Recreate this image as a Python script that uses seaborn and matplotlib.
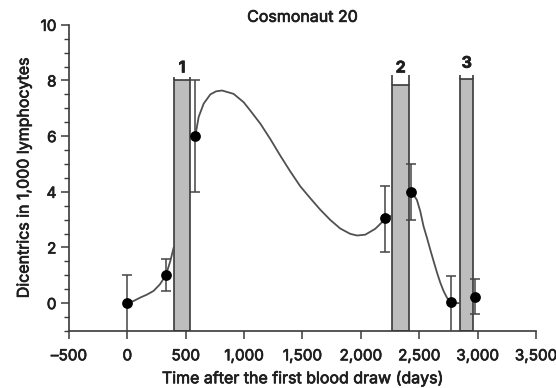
import numpy as np
import matplotlib
matplotlib.use("Agg")
import matplotlib.pyplot as plt
import matplotlib.patheffects as pe
from matplotlib.ticker import MultipleLocator, FuncFormatter
import pandas as pd
import seaborn as sns

# blood samples: day, dicentrics per 1,000 lymphocytes, error bar limits
sample_day = [0, 330, 582, 2209, 2429, 2774, 2978]
dicentrics = [0.0, 1.0, 6.0, 3.05, 4.0, 0.03, 0.23]
err_low = [-1.2, 0.42, 4.0, 1.82, 3.0, -1.2, -0.38]
err_high = [1.0, 1.6, 8.0, 4.2, 5.0, 0.98, 0.86]

# space flights
flight_label = ["1", "2", "3"]
flight_start = [397, 2269, 2851]
flight_end = [539, 2414, 2962]
flight_top = [8.0, 7.85, 8.05]
bracket_top = [8.12, 8.18, 8.18]
label_y = [8.45, 8.45, 8.62]

# fitted curve in three pieces
curve1_day = [0, 55, 111, 170, 225, 280, 330, 368, 397]
curve1_val = [0.0, 0.08, 0.2, 0.31, 0.44, 0.68, 1.0, 1.51, 2.0]
curve2_day = [582, 611, 654, 711, 760, 811, 910, 996, 1053, 1139, 1224, 1310,
              1396, 1481, 1567, 1652, 1738, 1824, 1909, 1967, 2038, 2123, 2209,
              2266]
curve2_val = [6.0, 6.69, 7.17, 7.50, 7.61, 7.64, 7.52, 7.22, 6.92, 6.45, 5.90, 5.30,
              4.73, 4.20, 3.77, 3.36, 2.99, 2.68, 2.49, 2.43, 2.46, 2.67, 3.02,
              3.15]
curve3_day = [2429, 2452, 2480, 2509, 2537, 2566, 2594, 2623, 2652, 2680, 2708,
              2737, 2765, 2774, 2851]
curve3_val = [3.98, 3.89, 3.71, 3.30, 2.76, 2.35, 1.93, 1.51, 1.10, 0.74, 0.44,
              0.2, 0.05, 0.0, 0.0]

sns.set_theme(style="ticks")
plt.rcParams["font.family"] = ["Inter", "DejaVu Sans"]

fig, ax = plt.subplots(figsize=(5.56, 3.88), dpi=100)
fig.subplots_adjust(left=0.124, right=0.964, bottom=0.147, top=0.936)

dark = "#3a3a3a"
txt = "#1e1e1e"
fs = 11.5

# flight bars from the bottom of the axis
starts = np.array(flight_start)
ends = np.array(flight_end)
tops = np.array(flight_top)
ax.bar((starts + ends) / 2, tops + 1, width=ends - starts, bottom=-1,
       color="#bdbdbd", edgecolor=dark, linewidth=1.2, zorder=2)
ax.vlines(np.concatenate([starts, ends]), np.concatenate([tops, tops]),
          np.concatenate([bracket_top, bracket_top]), color=dark, linewidth=1.2,
          zorder=2)
for lab, s, e, y in zip(flight_label, starts, ends, label_y):
    ax.text((s + e) / 2, y, lab, ha="center", va="center", fontsize=fs,
            fontweight="bold", color=txt)

# curve pieces
for d, v in [(curve1_day, curve1_val), (curve2_day, curve2_val),
             (curve3_day, curve3_val)]:
    sns.lineplot(x=d, y=v, sort=False, estimator=None, color="#505050",
                 linewidth=1.3, ax=ax, zorder=3)

# samples with error bars
df = pd.DataFrame({"day": sample_day, "val": dicentrics,
                   "lo": err_low, "hi": err_high})
ax.errorbar(df["day"], df["val"],
            yerr=[df["val"] - df["lo"], df["hi"] - df["val"]],
            fmt="none", ecolor="#444444", elinewidth=1.1, capsize=3.5,
            capthick=1.1, zorder=4)
sns.scatterplot(data=df, x="day", y="val", color="black", s=60,
                edgecolor="black", linewidth=0, ax=ax, zorder=5)

ax.set_xlim(-500, 3500)
ax.set_ylim(-1, 10)
ax.xaxis.set_major_locator(MultipleLocator(500))
ax.yaxis.set_major_locator(MultipleLocator(2))
ax.yaxis.set_minor_locator(MultipleLocator(0.5))
ax.xaxis.set_major_formatter(FuncFormatter(
    lambda x, p: f"{x:,.0f}".replace("-", "\u2013")))
ax.tick_params(axis="both", which="major", length=5.5, width=1.1, color=dark,
               labelsize=11, labelcolor=txt, pad=3.5)
ax.tick_params(axis="x", which="major", pad=7)
ax.tick_params(axis="y", which="minor", length=3.5, width=1.0, color=dark)
ax.tick_params(axis="x", which="minor", length=0)

for side in ["left", "bottom"]:
    ax.spines[side].set_linewidth(1.2)
    ax.spines[side].set_color(dark)
sns.despine(ax=ax)

ax.set_xlabel("Time after the first blood draw (days)", fontsize=fs,
              color=txt, labelpad=5)
ax.set_ylabel("Dicentrics in 1,000 lymphocytes", fontsize=fs,
              color=txt, labelpad=6.5)
ax.set_title("Cosmonaut 20", fontsize=fs, color=txt, pad=0.5)

# slightly heavier strokes on the text, as in the reference
fig.canvas.draw()
heavy = [pe.withStroke(linewidth=0.5, foreground=txt)]
for t in (ax.get_xticklabels() + ax.get_yticklabels() + ax.texts
          + [ax.xaxis.label, ax.yaxis.label, ax.title]):
    t.set_path_effects(heavy)

fig.savefig("out.png", dpi=100)
